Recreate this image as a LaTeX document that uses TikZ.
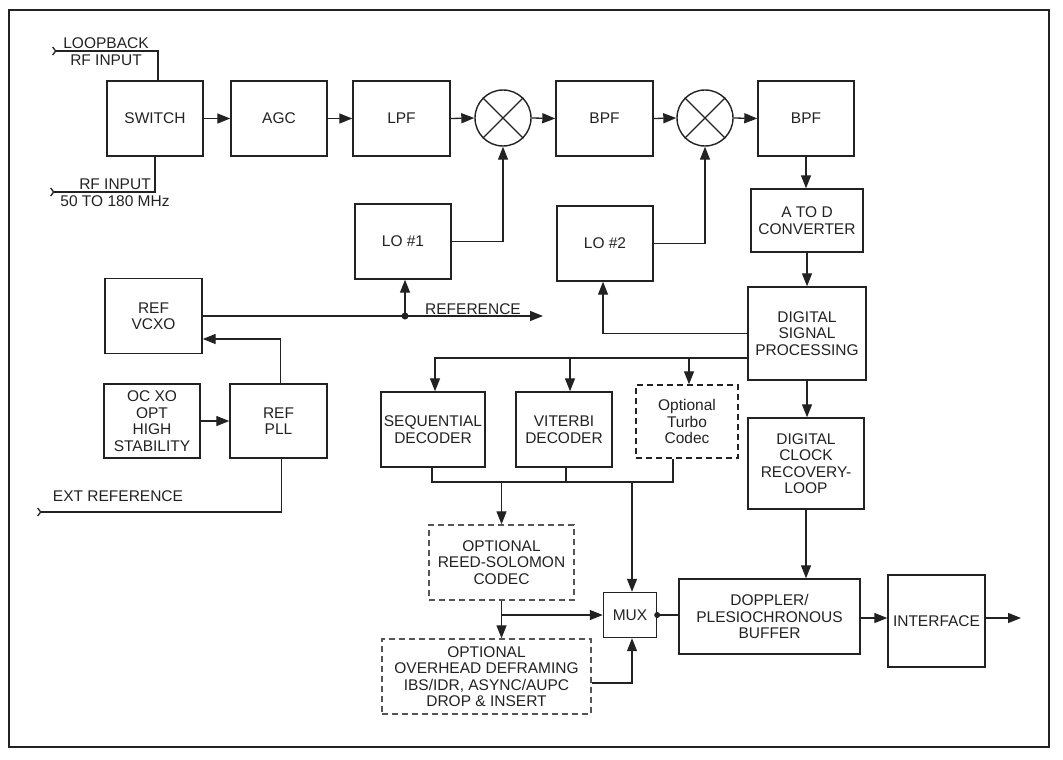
\documentclass[tikz,border=0pt]{standalone}
\usepackage{fontspec}
\setmainfont{Liberation Sans}
\usetikzlibrary{arrows.meta}
\definecolor{ink}{HTML}{222222}
\definecolor{dashgray}{HTML}{555555}
\tikzset{
  blk/.style={draw=ink, line width=1.4pt, minimum width=#1, inner sep=0pt, align=center, font=\fontsize{15.5}{16.5}\selectfont, text=ink},
  dbox/.style={blk=#1, dash pattern=on 6pt off 4pt},
  mixer/.style={draw=ink, line width=1.4pt, circle, minimum size=56pt, inner sep=0pt},
  lbl/.style={inner sep=0pt, align=center, font=\fontsize{15.5}{16.5}\selectfont, text=ink},
  conn/.style={draw=ink, line width=1.3pt},
  arr/.style={conn, -{Triangle[length=13pt,width=10pt]}},
  inarr/.style={conn, {Straight Barb[reversed,length=3pt,width=8pt]}-},
  dot/.style={circle, fill=ink, inner sep=0pt, minimum size=7pt}
}
\begin{document}
\begin{tikzpicture}[x=1pt,y=-1pt]
\useasboundingbox (0,0) rectangle (1063,760);
\fill[white] (0,0) rectangle (1063,760);
\draw[draw=ink, line width=1.4pt] (9,10) rectangle (1049,747);

% top row
\node[blk=96pt, minimum height=75pt] (switch) at (155,118.5) {SWITCH};
\node[blk=96pt, minimum height=75pt] (agc) at (279,118.5) {AGC};
\node[blk=97pt, minimum height=75pt] (lpf) at (401.5,118.5) {LPF};
\node[mixer] (mix1) at (503,118) {};
\node[blk=97pt, minimum height=75pt] (bpf1) at (604.5,118.5) {BPF};
\node[mixer] (mix2) at (705,118) {};
\node[blk=96pt, minimum height=75pt] (bpf2) at (806,118.5) {BPF};
\foreach \m in {mix1,mix2}{
  \draw[conn] (\m.45) -- (\m.225);
  \draw[conn] (\m.135) -- (\m.315);
}

% right column
\node[blk=112pt, minimum height=63pt] (atod) at (807,220.5) {A TO D\\CONVERTER};
\node[blk=118pt, minimum height=93pt] (dsp) at (807,333.5) {DIGITAL\\SIGNAL\\PROCESSING};
\node[blk=116pt, minimum height=91pt] (clock) at (806,463.5) {DIGITAL\\CLOCK\\RECOVERY-\\LOOP};

% LOs
\node[blk=96pt, minimum height=75pt] (lo1) at (403,241.5) {LO \#1};
\node[blk=96pt, minimum height=75pt] (lo2) at (605,243.5) {LO \#2};

% reference section
\node[blk=97pt, minimum height=75pt] (vcxo) at (153.5,316) {REF\\VCXO};
\node[blk=96pt, minimum height=74pt] (ocxo) at (152,421) {OC XO\\OPT\\HIGH\\STABILITY};
\node[blk=97pt, minimum height=74pt] (pll) at (278.5,421) {REF\\PLL};

% decoders
\node[blk=104pt, minimum height=75pt] (seq) at (433,429.5) {SEQUENTIAL\\DECODER};
\node[blk=96pt, minimum height=75pt] (vit) at (564,429.5) {VITERBI\\DECODER};
\node[dbox=102pt, minimum height=73pt] (turbo) at (687,421.5) {Optional\\Turbo\\Codec};
\node[dbox=145pt, minimum height=75pt, draw=dashgray] (rs) at (501.5,562.5) {OPTIONAL\\REED-SOLOMON\\CODEC};
\node[dbox=209pt, minimum height=75pt, draw=dashgray] (oh) at (486.5,676.5) {OPTIONAL\\OVERHEAD DEFRAMING\\IBS/IDR, ASYNC/AUPC\\DROP \& INSERT};
\node[blk=53pt, minimum height=45pt] (mux) at (630,615) {MUX};
\node[blk=181pt, minimum height=75pt] (doppler) at (769.5,616.5) {DOPPLER/\\PLESIOCHRONOUS\\BUFFER};
\node[blk=97pt, minimum height=92pt] (iface) at (936.5,621) {INTERFACE};

% labels
\node[lbl] (lbLoop) at (106,43) {LOOPBACK};
\node[lbl] (lbLoop2) at (106,60) {RF INPUT};
\node[lbl] (lbRf) at (115,184) {RF INPUT};
\node[lbl] (lbRf2) at (115,201) {50 TO 180 MHz};
\node[lbl] (lbRef) at (473,309) {REFERENCE};
\node[lbl] (lbExt) at (118,496) {EXT REFERENCE};

% inputs
\coordinate (loopin) at (52,51);
\coordinate (rfin) at (50,192);
\coordinate (extin) at (37,512);
\draw[inarr] (loopin) -| ([xshift=3pt]switch.north);
\draw[inarr] (rfin) -| (switch.south);
\draw[inarr] (extin) -| ([xshift=3pt]pll.south);

% top chain
\draw[arr] (switch.east) -- (agc.west);
\draw[arr] (agc.east) -- (lpf.west);
\draw[arr] (lpf.east) -- (mix1.west);
\draw[arr] (mix1.east) -- (bpf1.west);
\draw[arr] (bpf1.east) -- (mix2.west);
\draw[arr] (mix2.east) -- (bpf2.west);
\draw[arr] (bpf2.south) -- (bpf2.south |- atod.north);
\draw[arr] (atod.south) -- (atod.south |- dsp.north);
\draw[arr] (dsp.south) -- (dsp.south |- clock.north);
\draw[arr] (clock.south) -- (clock.south |- doppler.north);

% LOs
\draw[arr] (lo1.east) -| (mix1.south);
\draw[arr] (lo2.east) -| (mix2.south);
\draw[arr] (dsp.west) -| ([xshift=-2pt]lo2.south);

% reference
\coordinate (refend) at (543,316);
\node[dot] (refdot) at (405,316) {};
\draw[arr] (vcxo.east) -- (refend);
\draw[arr] (refdot.center) -- (refdot.center |- lo1.south);
\draw[arr] ([xshift=2pt]pll.north) |- (vcxo.east |- 0,339);
\draw[arr] (ocxo.east) -- (pll.west);

% decoder bus
\coordinate (busR) at (748,358);
\draw[arr] (busR) -| ([xshift=2pt]seq.north);
\draw[arr] ([xshift=6pt]vit.north |- busR) -- ([xshift=6pt]vit.north);
\draw[arr] ([xshift=2pt]turbo.north |- busR) -- ([xshift=2pt]turbo.north);

% decoder outputs
\coordinate (collL) at (432,482);
\coordinate (collR) at (673,482);
\draw[conn] ([xshift=-1pt]seq.south) |- (collR) -- (collR |- turbo.south);
\draw[conn] ([xshift=2pt]vit.south) -- ([xshift=2pt]vit.south |- collL);
\draw[arr] (rs.north |- collL) -- (rs.north);
\draw[arr] ([xshift=2pt]mux.north |- collL) -- ([xshift=2pt]mux.north);

% RS / OH / MUX
\draw[arr] (rs.south) -- (rs.south |- oh.north);
\draw[arr] (rs.south |- mux.west) -- (mux.west);
\coordinate (ohout) at (oh.east |- 0,683);
\draw[arr] (ohout) -| ([xshift=2pt]mux.south);
\node[dot, minimum size=6pt] (muxdot) at (mux.east) {};
\draw[conn] (mux.east) -- (mux.east -| doppler.west);
\draw[arr] (doppler.east |- 0,618) -- (iface.west |- 0,618);
\coordinate (outR) at (1021,618);
\draw[arr] (iface.east |- outR) -- (outR);
\end{tikzpicture}
\end{document}
